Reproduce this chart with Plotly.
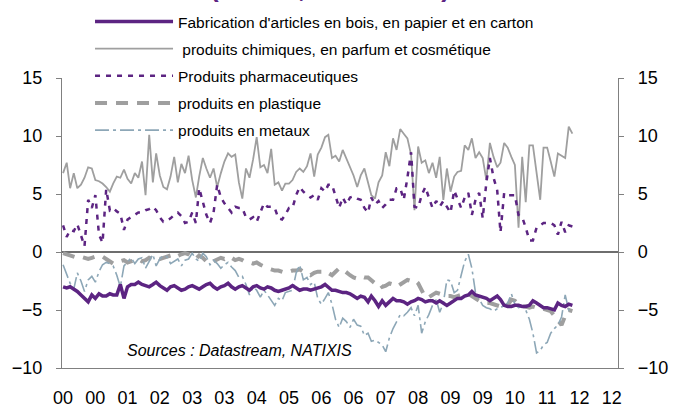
import pandas as pd
import plotly.graph_objects as go

dates = pd.date_range("2000-01-01", periods=143, freq="MS").strftime("%Y-%m-%d").tolist()

tick_dates = pd.date_range("2000-01-01", periods=18, freq="9MS").strftime("%Y-%m-%d").tolist()
tick_labels = ["00", "00", "01", "02", "03", "03", "04", "05", "06", "06",
               "07", "08", "09", "09", "10", "11", "12", "12"]

bois = [-3.0, -3.1, -3.0, -3.2, -3.4, -3.7, -4.0, -4.3, -3.7, -4.0, -3.6, -3.8,
        -3.8, -3.6, -3.7, -3.7, -2.8, -4.0, -3.0, -2.8, -2.8, -2.6, -2.8, -2.9,
        -3.0, -2.8, -2.6, -2.9, -3.1, -3.3, -3.0, -2.9, -3.1, -3.3, -3.2, -3.0,
        -2.9, -3.1, -3.2, -3.0, -2.8, -2.7, -3.0, -3.2, -3.0, -2.9, -2.7, -3.0,
        -3.2, -3.0, -2.9, -3.1, -3.3, -3.0, -2.9, -3.1, -3.2, -3.0, -3.1, -3.3,
        -3.4, -3.3, -3.2, -3.1, -2.9, -3.1, -3.3, -3.2, -3.2, -3.3, -3.2, -3.1,
        -3.0, -2.8, -3.0, -3.3, -3.3, -3.4, -3.5, -3.5, -3.6, -3.8, -4.0, -3.8,
        -3.9, -4.3, -3.8, -4.2, -4.7, -4.2, -4.6, -4.3, -4.0, -4.2, -4.2, -4.3,
        -4.5, -4.3, -4.2, -4.0, -4.1, -4.3, -4.2, -4.2, -4.4, -4.2, -4.4, -4.6,
        -4.4, -4.2, -4.0, -4.0, -3.8, -3.7, -3.4, -3.7, -3.8, -3.9, -4.0, -4.2,
        -4.0, -3.8, -4.1, -4.6, -4.7, -4.7, -4.6, -4.6, -4.7, -4.7, -4.6, -4.2,
        -4.4, -4.6, -4.8, -4.8, -4.9, -5.0, -4.4, -4.6, -4.7, -4.5, -4.6]

chimiques = [6.8, 7.7, 5.5, 6.8, 5.5, 5.8, 6.4, 7.3, 7.2, 6.2, 6.1, 5.9,
             5.6, 5.2, 5.9, 6.5, 6.4, 7.1, 6.3, 5.9, 6.8, 6.4, 7.8, 4.9,
             10.1, 6.0, 8.5, 6.6, 5.6, 5.4, 6.5, 8.2, 6.0, 7.6, 6.8, 8.3,
             6.2, 4.7, 6.5, 8.1, 7.2, 6.4, 7.2, 5.6, 6.8, 7.8, 8.5, 8.2,
             8.4, 6.0, 4.6, 7.2, 6.4, 8.0, 9.9, 7.3, 7.5, 6.8, 8.9, 5.8,
             6.0, 5.3, 5.9, 5.9, 6.2, 6.9, 7.2, 6.9, 7.4, 8.5, 6.5, 8.4,
             9.0, 9.9, 10.1, 8.1, 8.3, 7.8, 8.8, 8.0, 7.2, 6.6, 5.6, 6.6,
             7.2, 6.0, 4.9, 4.6, 6.0, 6.6, 8.6, 7.4, 9.8, 8.8, 10.6, 10.2,
             9.8, 8.4, 3.6, 9.1, 7.7, 7.9, 6.8, 7.7, 6.4, 8.2, 4.5, 7.2,
             5.2, 6.5, 6.9, 7.0, 9.2, 8.8, 9.8, 8.1, 8.6, 8.1, 6.2, 9.4,
             8.2, 7.3, 7.7, 9.4, 9.0, 8.2, 7.5, 2.1, 8.2, 4.3, 9.2, 9.2,
             6.8, 4.5, 9.0, 9.0, 7.8, 6.5, 8.5, 8.3, 8.1, 10.8, 10.2]

pharma = [2.3, 1.3, 1.9, 1.8, 2.4, 1.5, 0.5, 4.5, 3.8, 4.9, 1.5, 0.8,
          5.4, 3.6, 3.8, 3.5, 3.3, 1.9, 2.8, 3.0, 3.2, 3.4, 3.4, 3.6,
          3.7, 3.9, 3.6, 3.0, 2.6, 2.7, 2.9, 3.2, 3.4, 3.1, 2.5, 2.6,
          3.4, 2.5, 5.5, 4.2, 3.2, 2.5, 3.4, 5.8, 4.7, 4.2, 3.8, 3.4,
          3.9, 3.8, 3.8, 3.0, 2.8, 3.0, 2.6, 3.4, 4.2, 3.9, 3.9, 3.8,
          2.9, 2.8, 3.2, 3.8, 3.8, 4.9, 5.6, 5.2, 4.9, 4.7, 4.9, 4.5,
          5.5, 5.2, 5.8, 5.8, 4.7, 3.8, 4.7, 4.1, 4.7, 4.8, 4.6, 4.5,
          3.8, 3.4, 4.7, 4.1, 4.4, 3.8, 4.1, 4.5, 4.5, 5.5, 5.5, 4.5,
          6.4, 8.6, 3.9, 3.8, 4.9, 5.6, 4.7, 3.8, 4.4, 3.9, 4.4, 3.9,
          3.4, 5.3, 4.5, 3.8, 4.7, 5.1, 3.2, 4.5, 5.1, 2.9, 6.0, 8.1,
          6.4, 5.3, 1.7, 5.1, 4.9, 4.9, 4.9, 3.2, 3.0, 2.1, 1.0, 1.0,
          2.1, 2.3, 2.5, 2.5, 2.5, 2.3, 1.5, 2.6, 1.7, 2.3, 2.2]

plastique = [-0.1, -0.2, -0.3, -0.4, -0.5, -0.4, -0.5, -0.6, -0.5, -0.4, -0.5, -0.4,
             -0.6, -0.8, -1.0, -0.9, -0.8, -0.7, -0.9, -0.8, -0.7, -0.6, -0.8, -0.7,
             -0.5, -0.6, -0.4, -0.6, -0.5, -0.4, -0.3, -0.5, -0.3, -0.2, -0.1, -0.2,
             -0.4, -0.6, -0.3, -0.5, -0.8, -1.0, -0.8, -0.6, -0.5, -0.6, -0.4, -0.5,
             -0.7, -0.6, -0.7, -0.9, -0.9, -1.0, -0.9, -1.1, -1.3, -1.4, -1.5, -1.6,
             -1.6, -1.7, -1.8, -1.7, -1.6, -1.6, -1.5, -1.7, -1.9, -2.0, -1.8, -1.7,
             -1.7, -1.6, -1.8, -2.0, -1.7, -1.4, -1.5, -1.8, -2.0, -2.2, -2.3, -2.1,
             -2.2, -2.2, -2.4, -2.7, -2.6, -3.0, -2.9, -2.7, -2.8, -3.0, -2.8, -2.6,
             -2.4, -2.5, -2.4, -2.7, -3.3, -3.9, -3.9, -3.7, -3.5, -3.6, -3.7, -3.8,
             -3.8, -3.9, -3.8, -3.7, -3.6, -3.6, -3.8, -4.0, -4.2, -4.3, -4.4, -4.4,
             -4.5, -4.6, -4.7, -4.7, -4.6, -4.1, -4.2, -4.5, -4.7, -4.7, -4.8, -4.7,
             -4.8, -4.8, -4.9, -5.0, -5.1, -5.5, -5.9, -6.3, -5.5, -5.0, -5.1]

metaux = [-1.1, -2.0, -2.7, -3.2, -1.8, -2.5, -3.4, -2.4, -2.1, -2.6, -1.7, -1.1,
          -0.9, -1.0, -1.2, -2.0, -3.0, -1.2, -0.9, -0.5, -1.0, -0.6, -0.5, -1.4,
          -0.8, -0.2, -1.2, -0.6, -0.3, -0.4, -1.0, -0.8, -0.6, -1.2, -0.7, -0.6,
          -0.1, -0.6, -0.8, -0.1, -0.4, -1.1, -0.7, -1.0, -1.4, -1.1, -0.9, -1.3,
          -1.6, -2.2, -2.1, -2.8, -3.7, -3.0, -3.3, -3.9, -3.3, -3.7, -4.2, -4.6,
          -4.0, -4.2, -3.5, -3.4, -3.3, -1.8, -1.1, -2.4, -2.2, -2.8, -2.6, -4.0,
          -4.5, -4.0, -3.5, -4.5, -5.8, -6.5, -5.7, -6.0, -6.5, -5.8, -6.3, -6.4,
          -7.2, -7.0, -7.7, -7.6, -7.8, -8.0, -8.6, -7.4, -6.6, -6.0, -5.4, -5.5,
          -5.2, -4.8, -5.5, -4.6, -7.0, -6.0, -5.4, -4.6, -4.1, -5.2, -4.4, -2.4,
          -2.5, -3.5, -3.3, -2.0, -0.8, -0.2, -1.4, -3.5, -4.0, -4.6, -4.8, -4.9,
          -5.1, -4.9, -4.8, -4.6, -4.4, -3.6, -4.5, -4.8, -4.7, -5.0, -5.8, -7.0,
          -8.7, -8.5, -8.0, -7.8, -7.0, -6.6, -6.3, -5.6, -3.7, -5.0, -4.8]

y_ticks = [-10, -5, 0, 5, 10, 15]

PURPLE = "#5C2482"
GREY = "#9F9F9F"
BLUEGREY = "#8DA7B7"
FONT = "Arial, Liberation Sans, sans-serif"

fig = go.Figure()
fig.add_trace(go.Scatter(x=dates, y=bois, mode="lines", yaxis="y2",
                         name="Fabrication d'articles en bois, en papier et en carton",
                         line=dict(color=PURPLE, width=3.5), legendgroup="a"))
fig.add_trace(go.Scatter(x=dates, y=chimiques, mode="lines",
                         name=" produits chimiques, en parfum et cosmétique",
                         line=dict(color=GREY, width=1.8), legendgroup="b"))
fig.add_trace(go.Scatter(x=dates, y=pharma, mode="lines",
                         name="Produits pharmaceutiques",
                         line=dict(color=PURPLE, width=2.5, dash="5px,6px"), legendgroup="c"))
fig.add_trace(go.Scatter(x=dates, y=plastique, mode="lines",
                         name="produits en plastique",
                         line=dict(color=GREY, width=4, dash="12px,9px"), legendgroup="d"))
fig.add_trace(go.Scatter(x=dates, y=metaux, mode="lines",
                         name="produits en metaux",
                         line=dict(color=BLUEGREY, width=1.6, dash="14px,4px,3px,4px"), legendgroup="e"))

axis_common = dict(range=[-10, 15], tickvals=y_ticks, ticks="outside", ticklen=5,
                   tickcolor="#808080", showline=True, linecolor="#808080", linewidth=1.2,
                   showgrid=False, tickfont=dict(size=18, color="#000000", family=FONT))

fig.update_layout(
    width=682, height=410,
    margin=dict(l=62, r=64, t=78, b=42, autoexpand=False),
    paper_bgcolor="white", plot_bgcolor="white",
    font=dict(family=FONT, color="#000000"),
    showlegend=True,
    legend=dict(x=0.0504, y=1.252, xanchor="left", yanchor="top",
                bgcolor="rgba(0,0,0,0)", font=dict(size=15.5, family=FONT),
                tracegroupgap=4, itemwidth=78, traceorder="grouped"),
    xaxis=dict(type="date", range=["1999-12-23", "2012-11-22"],
               tickvals=tick_dates, ticktext=tick_labels, ticks="",
               showline=True, linecolor="#808080", linewidth=1.2, showgrid=False,
               zeroline=False, ticklabelstandoff=13,
               tickfont=dict(size=18, color="#000000", family=FONT)),
    yaxis=dict(side="left", zeroline=True, zerolinecolor="#6E6E6E", zerolinewidth=1.5,
               ticklabelstandoff=10, **axis_common),
    yaxis2=dict(side="right", overlaying="y", zeroline=False,
                ticklabelstandoff=10, **axis_common),
    annotations=[
        dict(text="<i>Sources : Datastream, NATIXIS</i>", xref="paper", yref="paper",
             x=0.113, y=0.06, xanchor="left", yanchor="middle", showarrow=False,
             font=dict(size=16, family=FONT, color="#000000")),
        dict(text="<b>(En GA, en volume)</b>", xref="paper", yref="paper",
             x=0.482, y=1.2525, xanchor="center", yanchor="bottom", showarrow=False,
             font=dict(size=26, family=FONT, color=PURPLE)),
    ],
)

fig.write_html("out.html", config={"displayModeBar": False},
               post_script="document.body.style.margin='0';")
